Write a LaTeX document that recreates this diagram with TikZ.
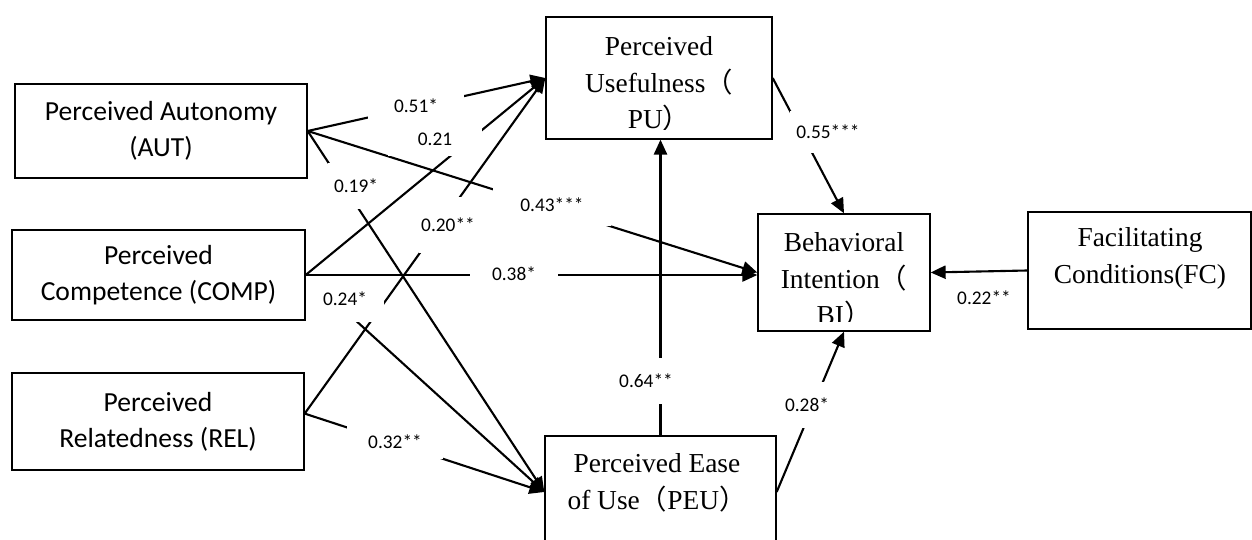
\documentclass[tikz,border=0pt]{standalone}
\usepackage{fontspec}
\setmainfont{Liberation Serif}
\newfontfamily\calibri{Carlito}
\newfontfamily\cjk{Noto Sans CJK SC}
\usetikzlibrary{arrows.meta}

\begin{document}
\begin{tikzpicture}[x=0.02cm, y=-0.02cm,
		box/.style={draw, line width=0.8pt, inner sep=0pt},
		sdt/.style={font=\calibri\fontsize{15.7}{20.4}\selectfont, align=center},
		txt/.style={font=\fontsize{15.6}{20.8}\selectfont, align=center},
		arr/.style={line width=1.2pt, -{Triangle[length=8.5pt,width=7.5pt]}},
		val/.style={fill=white, font=\calibri\fontsize{11}{13}\selectfont, inner sep=1pt}]
		
		\clip (0,0) rectangle (1252,540);
		
		% the three needs on the left
		\node[box, sdt, minimum width=5.84cm, minimum height=1.88cm] (aut) at (161,131) {Perceived Autonomy\\(AUT)};
		\node[box, sdt, minimum width=5.86cm, minimum height=1.80cm] (comp) at (158.5,275) {Perceived\\Competence (COMP)};
		\node[box, sdt, minimum width=5.84cm, minimum height=1.94cm] (rel) at (158,421.5) {Perceived\\Relatedness (REL)};
		
		% TAM boxes, text cut by the box margin
		\node[box, minimum width=4.52cm, minimum height=2.44cm] (pu) at (659,78) {};
		\begin{scope}
			\clip (pu.north west) rectangle (pu.east |- 0,130);
			\node[txt] (pu-t) at (659,84) {Perceived\\Usefulness{\cjk （}\\PU{\cjk ）}};
		\end{scope}
		
		\node[box, minimum width=3.44cm, minimum height=2.34cm] (bi) at (844,272.5) {};
		\begin{scope}
			\clip (bi.north west) rectangle (bi.east |- 0,322);
			\node[txt] (bi-t) at (844,280) {Behavioral\\Intention{\cjk （}\\BI{\cjk ）}};
		\end{scope}
		
		\node[box, minimum width=4.46cm, minimum height=2.34cm] (fc) at (1139.5,270.5) {};
		\node[txt] (fc-t) at (1140,258.5) {Facilitating\\Conditions(FC)};
		
		\node[box, minimum width=4.62cm, minimum height=2.24cm] (peu) at (660.5,492) {};
		\node[txt] (peu-t) at (657,483) {Perceived Ease\\of Use{\cjk （}PEU{\cjk ）}};
		
		% paths
		\draw[arr] (aut.east) -- (pu.west);
		\draw[arr] (aut.east) -- (bi.west);
		\draw[arr] (aut.east) -- (peu.west);
		\draw[arr] (comp.east) -- (pu.west);
		\draw[arr] (comp.east) -- (bi.west |- comp.east);
		\draw[arr] (comp.east) -- (peu.west);
		\draw[arr] ([yshift=4.5pt]rel.east) -- (pu.west);
		\draw[arr] ([yshift=4.5pt]rel.east) -- (peu.west);
		\draw[arr] (peu.north) -- (peu.north |- pu.south);
		\draw[arr] (peu.east) -- (bi.south);
		\draw[arr] (pu.east) -- (bi.north);
		\draw[arr] (fc.west) -- (bi.east);
		
		% coefficients (white boxes cut the lines)
		\node[val, inner xsep=15pt, inner ysep=5pt] (v51) at (416,106) {0.51*};
		\node[val, inner xsep=17pt, inner ysep=6pt] (v21) at (435,139) {0.21};
		\node[val, inner xsep=3.4pt, inner ysep=9pt] (v19) at (356,186) {0.19*};
		\node[val, inner xsep=15.7pt, inner ysep=8pt] (v43) at (552,205) {0.43***};
		\node[val, inner xsep=12.5pt, inner ysep=3pt] (v38) at (514,274) {0.38*};
		\node[val, inner xsep=9.5pt, inner ysep=9pt] (v24) at (345,299) {0.24*};
		\node[val, inner xsep=1pt, inner ysep=11.8pt] (v20) at (448,225) {0.20**};
		\node[val, inner xsep=12pt, inner ysep=6pt] (v32) at (395,442) {0.32**};
		\node[val, inner xsep=2pt, inner ysep=9pt] (v64) at (646,381) {0.64**};
		\node[val, inner xsep=1pt, inner ysep=9.3pt] (v28) at (807,405) {0.28*};
		\node[val, inner xsep=3.4pt, inner ysep=8pt] (v55) at (828,132) {0.55***};
		\node[val] (v22) at (984,298) {0.22**};
		
	\end{tikzpicture}
\end{document}
